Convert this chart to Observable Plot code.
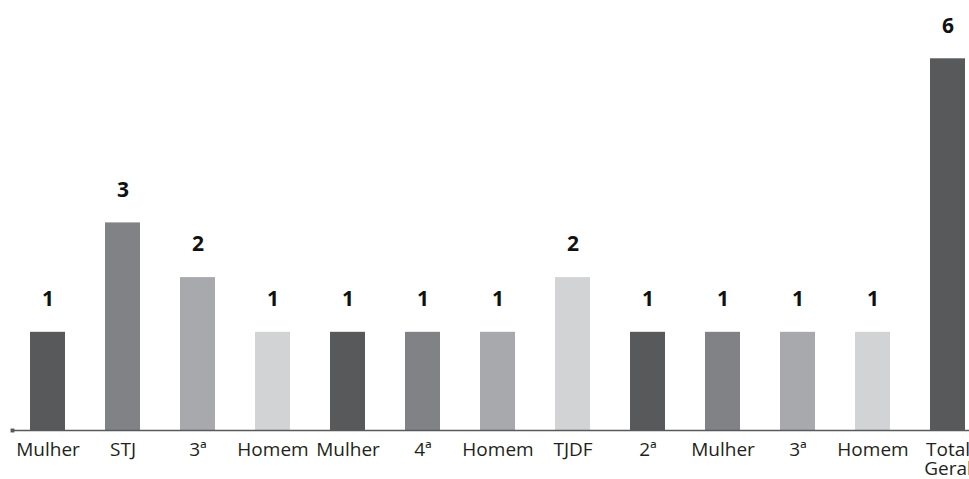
<!DOCTYPE html>
<html>
<head>
<meta charset="utf-8">
<script src="https://cdn.jsdelivr.net/npm/d3@7"></script>
<script src="https://cdn.jsdelivr.net/npm/@observablehq/plot@0.6"></script>
<style>
  html, body { margin: 0; padding: 0; background: #fff; overflow: hidden; }
</style>
</head>
<body>
<div id="chart"></div>
<script>
const categories = ["Mulher", "STJ", "3ª", "Homem", "Mulher", "4ª", "Homem", "TJDF", "2ª", "Mulher", "3ª", "Homem", "Total\nGeral"];
const values = [1, 3, 2, 1, 1, 1, 1, 2, 1, 1, 1, 1, 6];

const palette = ["#58595b", "#808285", "#a7a9ac", "#d1d3d4"];
const keys = categories.map((c, i) => String(i));
const data = categories.map((c, i) => ({key: keys[i], label: c, value: values[i], shade: palette[i % 4]}));
const yMin = -0.795;

const chart = Plot.plot({
  width: 969,
  height: 479,
  marginLeft: 12,
  marginRight: 0,
  marginTop: 20,
  marginBottom: 49,
  style: {fontFamily: "'Open Sans', sans-serif", background: "#fff", overflow: "visible"},
  x: {domain: keys, paddingInner: 0.536, paddingOuter: 0.1127, align: 0.82, label: null},
  y: {domain: [yMin, 6.70], axis: null},
  marks: [
    Plot.barY(data, {x: "key", y1: yMin, y2: "value", fill: "shade"}),
    Plot.ruleY([yMin], {stroke: "#58595b", strokeWidth: 1.5}),
    Plot.dot([0], {frameAnchor: "bottom-left", symbol: "square", r: 2.2, fill: "#58595b", stroke: null}),
    Plot.text(data, {x: "key", y: "value", text: d => String(d.value), dy: -33, fontSize: 21, fontWeight: "bold", fill: "#111"}),
    Plot.axisX({tickSize: 0, tickPadding: 12, tickFormat: k => categories[+k], fontSize: 19, fill: "#231f20", lineHeight: 1.0, label: null})
  ]
});
document.getElementById("chart").appendChild(chart);
</script>
</body>
</html>
